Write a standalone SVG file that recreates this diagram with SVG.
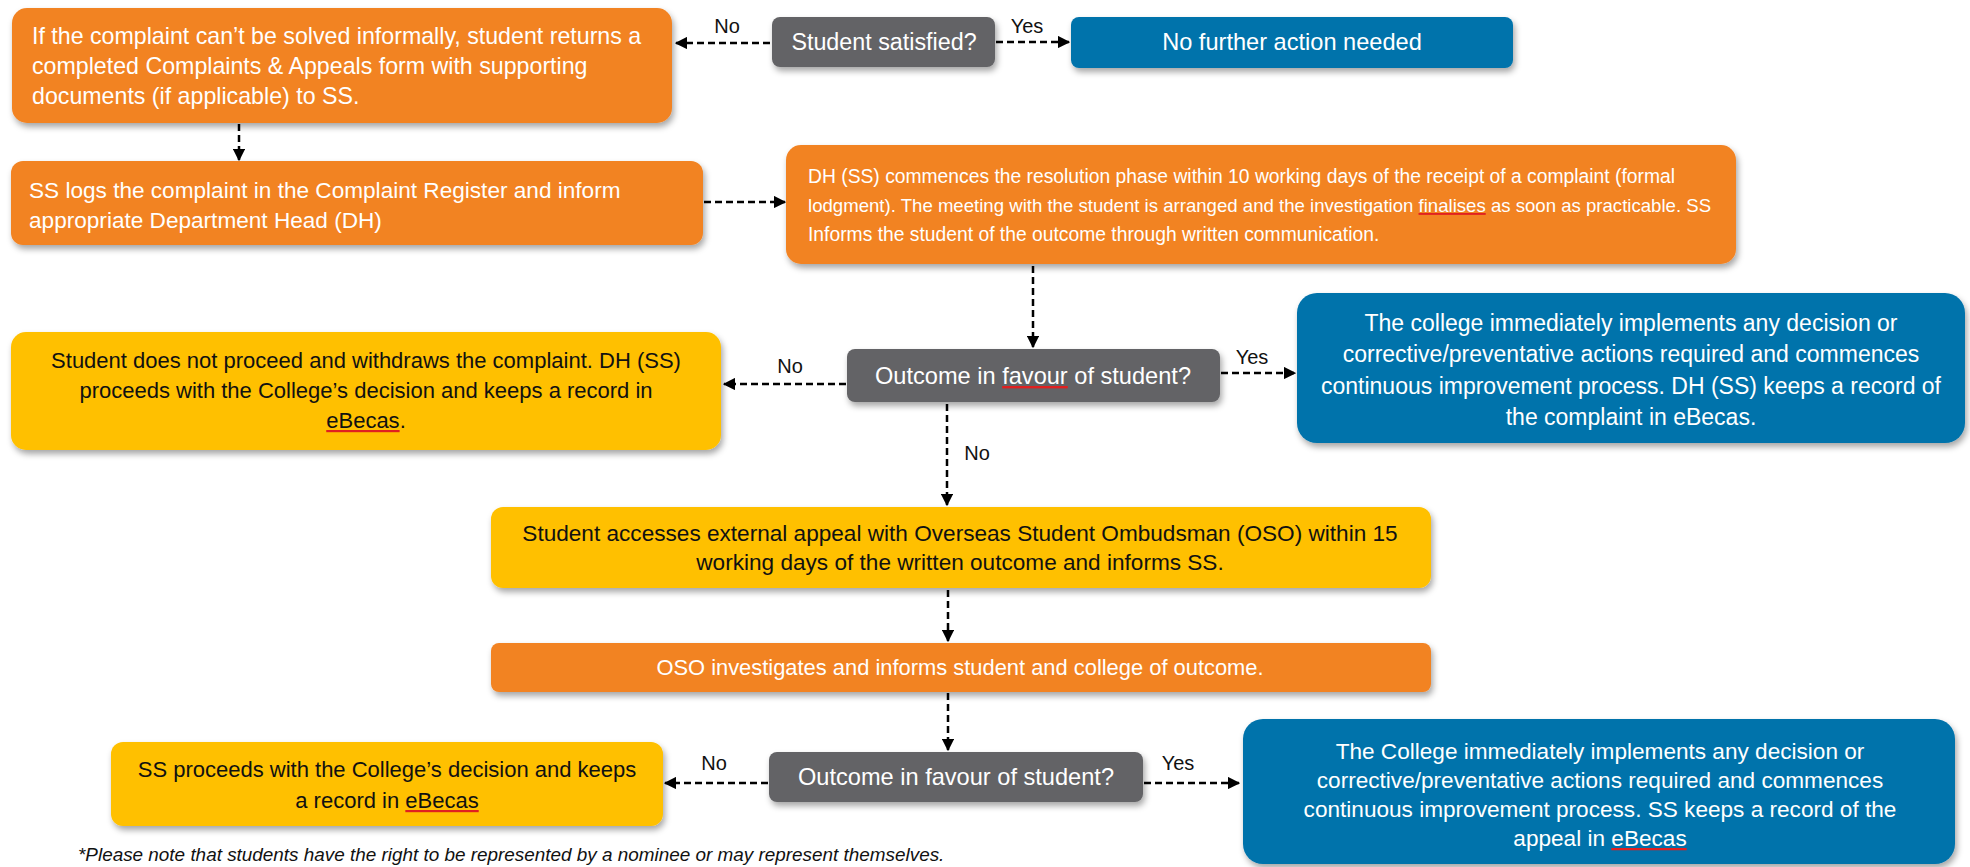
<svg xmlns="http://www.w3.org/2000/svg" width="1970" height="867" viewBox="0 0 1970 867">
<style>
.t{font-family:"Liberation Sans",Arial,sans-serif;}
.w{fill:#ffffff;}
.k{fill:#111111;}
.or{fill:#F28323;}
.gr{fill:#636366;}
.bl{fill:#0173AB;}
.ye{fill:#FFC000;}
.box{filter:url(#sh);}
.c{stroke:#000;stroke-width:2.5;stroke-dasharray:7 4;fill:none;marker-end:url(#ah);}
.lbl{font-family:"Liberation Sans",Arial,sans-serif;font-size:20px;fill:#111;}
.sq{text-decoration:underline;fill:#e02020;}
</style>
<defs>
<filter id="sh" x="-10%" y="-20%" width="120%" height="150%">
<feDropShadow dx="2" dy="4" stdDeviation="3" flood-color="#000" flood-opacity="0.35"/>
</filter>
<marker id="ah" viewBox="0 0 10 10" refX="9" refY="5" markerWidth="5" markerHeight="5" orient="auto" markerUnits="strokeWidth">
<path d="M0,0 L10,5 L0,10 z" fill="#000"/>
</marker>
</defs>

<g id="connectors">
<line class="c" x1="770" y1="43" x2="676" y2="43"/>
<line class="c" x1="996" y1="42" x2="1069" y2="42"/>
<line class="c" x1="239" y1="124" x2="239" y2="160"/>
<line class="c" x1="704" y1="202" x2="785" y2="202"/>
<line class="c" x1="1033" y1="266" x2="1033" y2="347"/>
<line class="c" x1="846" y1="384" x2="724" y2="384"/>
<line class="c" x1="1221" y1="373" x2="1295" y2="373"/>
<line class="c" x1="947" y1="404" x2="947" y2="505"/>
<line class="c" x1="948" y1="590" x2="948" y2="641"/>
<line class="c" x1="948" y1="693" x2="948" y2="750"/>
<line class="c" x1="768" y1="783" x2="665" y2="783"/>
<line class="c" x1="1144" y1="783" x2="1239" y2="783"/>
<text class="lbl" x="727" y="33" text-anchor="middle">No</text>
<text class="lbl" x="1027" y="33" text-anchor="middle">Yes</text>
<text class="lbl" x="790" y="373" text-anchor="middle">No</text>
<text class="lbl" x="1252" y="364" text-anchor="middle">Yes</text>
<text class="lbl" x="977" y="460" text-anchor="middle">No</text>
<text class="lbl" x="714" y="770" text-anchor="middle">No</text>
<text class="lbl" x="1178" y="770" text-anchor="middle">Yes</text>
</g>

<g id="n-complaint-form">
<rect class="box or" x="12" y="8" width="660" height="115" rx="15"/>
<text class="t w" font-size="23.2"><tspan x="32" y="44">If the complaint can’t be solved informally, student returns a</tspan><tspan x="32" y="74">completed Complaints &amp; Appeals form with supporting</tspan><tspan x="32" y="104">documents (if applicable) to SS.</tspan></text>
</g>

<g id="n-student-satisfied">
<rect class="box gr" x="772" y="17" width="223" height="50" rx="8"/>
<text class="t w" font-size="23.3" x="884" y="50" text-anchor="middle">Student satisfied?</text>
</g>

<g id="n-no-further">
<rect class="box bl" x="1071" y="17" width="442" height="51" rx="8"/>
<text class="t w" font-size="23.6" x="1292" y="50" text-anchor="middle">No further action needed</text>
</g>

<g id="n-ss-logs">
<rect class="box or" x="11" y="161" width="692" height="84" rx="12"/>
<text class="t w" font-size="22.6"><tspan x="29" y="198">SS logs the complaint in the Complaint Register and inform</tspan><tspan x="29" y="228">appropriate Department Head (DH)</tspan></text>
</g>

<g id="n-dh-resolution">
<rect class="box or" x="786" y="145" width="950" height="119" rx="15"/>
<text class="t w" font-size="19.3"><tspan x="808" y="183">DH (SS) commences the resolution phase within 10 working days of the receipt of a complaint (formal</tspan><tspan x="808" y="212" font-size="18.6">lodgment). The meeting with the student is arranged and the investigation <tspan class="sq"><tspan class="w">finalises</tspan></tspan> as soon as practicable. SS</tspan><tspan x="808" y="241">Informs the student of the outcome through written communication.</tspan></text>
</g>

<g id="n-outcome-1">
<rect class="box gr" x="847" y="349" width="373" height="53" rx="8"/>
<text class="t w" font-size="23.6" x="1033" y="384" text-anchor="middle">Outcome in <tspan class="sq"><tspan class="w">favour</tspan></tspan> of student?</text>
</g>

<g id="n-withdraws">
<rect class="box ye" x="11" y="332" width="710" height="118" rx="15"/>
<text class="t k" font-size="22" text-anchor="middle"><tspan x="366" y="368">Student does not proceed and withdraws the complaint. DH (SS)</tspan><tspan x="366" y="398">proceeds with the College’s decision and keeps a record in</tspan><tspan x="366" y="428"><tspan class="sq"><tspan class="k">eBecas</tspan></tspan>.</tspan></text>
</g>

<g id="n-college-implements-1">
<rect class="box bl" x="1297" y="293" width="668" height="150" rx="20"/>
<text class="t w" font-size="23" text-anchor="middle"><tspan x="1631" y="331">The college immediately implements any decision or</tspan><tspan x="1631" y="362">corrective/preventative actions required and commences</tspan><tspan x="1631" y="394">continuous improvement process. DH (SS) keeps a record of</tspan><tspan x="1631" y="425">the complaint in eBecas.</tspan></text>
</g>

<g id="n-external-appeal">
<rect class="box ye" x="491" y="507" width="940" height="81" rx="12"/>
<text class="t k" font-size="22.6" text-anchor="middle"><tspan x="960" y="541">Student accesses external appeal with Overseas Student Ombudsman (OSO) within 15</tspan><tspan x="960" y="570">working days of the written outcome and informs SS.</tspan></text>
</g>

<g id="n-oso-investigates">
<rect class="box or" x="491" y="643" width="940" height="49" rx="8"/>
<text class="t w" font-size="21.9" x="960" y="675" text-anchor="middle">OSO investigates and informs student and college of outcome.</text>
</g>

<g id="n-outcome-2">
<rect class="box gr" x="769" y="752" width="374" height="50" rx="8"/>
<text class="t w" font-size="23.6" x="956" y="785" text-anchor="middle">Outcome in favour of student?</text>
</g>

<g id="n-ss-proceeds">
<rect class="box ye" x="111" y="742" width="552" height="84" rx="12"/>
<text class="t k" font-size="22" text-anchor="middle"><tspan x="387" y="777">SS proceeds with the College’s decision and keeps</tspan><tspan x="387" y="808">a record in <tspan class="sq"><tspan class="k">eBecas</tspan></tspan></tspan></text>
</g>

<g id="n-college-implements-2">
<rect class="box bl" x="1243" y="719" width="712" height="145" rx="20"/>
<text class="t w" font-size="22.6" text-anchor="middle"><tspan x="1600" y="759">The College immediately implements any decision or</tspan><tspan x="1600" y="788">corrective/preventative actions required and commences</tspan><tspan x="1600" y="817">continuous improvement process. SS keeps a record of the</tspan><tspan x="1600" y="846">appeal in <tspan class="sq"><tspan class="w">eBecas</tspan></tspan></tspan></text>
</g>

<text class="t" font-size="18.9" font-style="italic" fill="#111" x="78" y="861">*Please note that students have the right to be represented by a nominee or may represent themselves.</text>
</svg>
